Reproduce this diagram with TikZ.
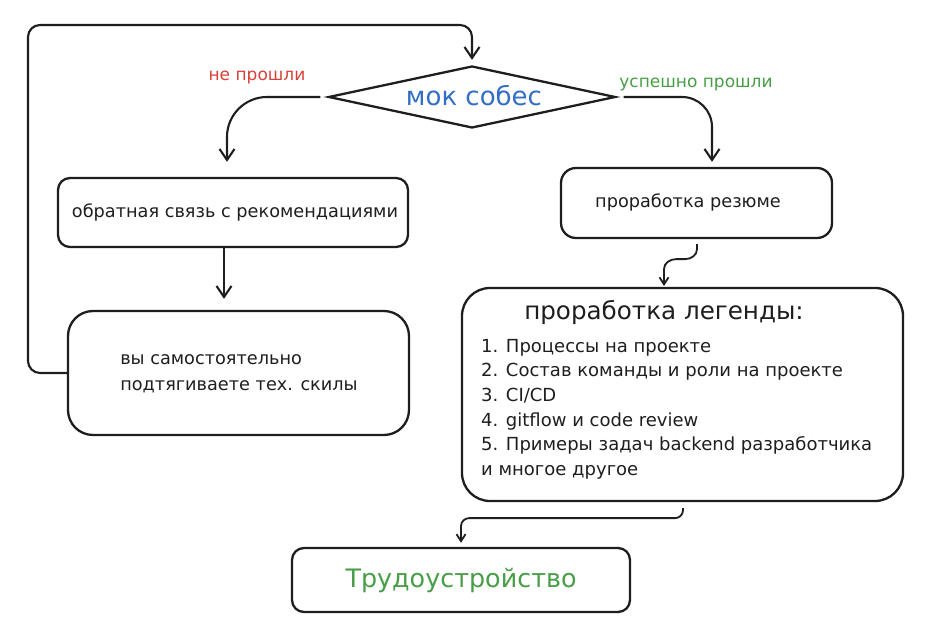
\documentclass[tikz,border=0pt]{standalone}
\usepackage{fontspec}
\setmainfont{DejaVu Sans}
\usetikzlibrary{shapes.geometric,arrows.meta}
\definecolor{mblue}{RGB}{49,110,196}
\definecolor{mred}{RGB}{214,64,56}
\definecolor{mgreen}{RGB}{72,158,70}
\definecolor{ink}{RGB}{30,30,30}
\tikzset{
  box/.style={draw=ink, line width=2.3pt, inner sep=0pt},
  arr/.style={draw=ink, line width=2.1pt, -{Straight Barb[length=11pt,width=15pt,line width=2.1pt]}},
  arrs/.style={draw=ink, line width=1.8pt, -{Straight Barb[length=7pt,width=9pt,line width=1.8pt]}},
  txt/.style={inner sep=0pt, text=ink, font=\fontsize{17.7}{21}\selectfont}
}
\begin{document}
\begin{tikzpicture}[x=1pt,y=1pt]
\useasboundingbox (0,0) rectangle (947,642);
% nodes
\node[diamond, draw=ink, line width=2.3pt, minimum width=287pt, minimum height=62pt, aspect=4.63, inner sep=0pt] (dia) at (472,545) {};
\node[inner sep=0pt, text=mblue, font=\fontsize{26}{30}\selectfont] (diat) at (474,546) {мок собес};
\node[box, rounded corners=12pt, minimum width=350pt, minimum height=69pt] (b1) at (233,429.5) {};
\node[txt] (b1t) at (235,430) {обратная связь с рекомендациями};
\node[box, rounded corners=25pt, minimum width=341pt, minimum height=124pt] (b2) at (238.5,269) {};
\node[txt, align=left, font=\fontsize{17.7}{26}\selectfont] (b2t) at (239,268) {вы самостоятельно\\подтягиваете тех. скилы};
\node[box, rounded corners=15pt, minimum width=271pt, minimum height=70pt] (b3) at (696.5,439) {};
\node[txt] (b3t) at (688,440) {проработка резюме};
\node[box, rounded corners=28pt, minimum width=441pt, minimum height=213pt] (b4) at (682.5,247.5) {};
\node[txt, font=\fontsize{24.6}{28}\selectfont] (b4h) at (664,329) {проработка легенды:};
\node[txt, align=left, anchor=north west, font=\fontsize{18}{24.6}\selectfont] (b4t) at (481,303) {1. Процессы на проекте\\2. Состав команды и роли на проекте\\3. CI/CD\\4. gitflow и code review\\5. Примеры задач backend разработчика\\и многое другое};
\node[box, rounded corners=12pt, minimum width=338pt, minimum height=64pt] (b5) at (461,62) {};
\node[inner sep=0pt, text=mgreen, font=\fontsize{25.4}{29}\selectfont] (b5t) at (461,62) {Трудоустройство};
\node[inner sep=0pt, text=mred, font=\fontsize{17}{19}\selectfont] (lno) at (257,564) {не прошли};
\node[inner sep=0pt, text=mgreen, font=\fontsize{17}{19}\selectfont] (lyes) at (696,557) {успешно прошли};
% coordinates
\coordinate (loopA) at (28,269);
\coordinate (loopB) at (28,617);
\coordinate (loopC) at (472,617);
\coordinate (b1in) at (227,429.5);
\coordinate (b3in) at (712,439);
% connectors
\draw[arr, rounded corners=12pt, shorten >=5pt] (b2.west) -- (loopA) -- (loopB) -- (loopC) -- (dia.north);
\draw[arr, rounded corners=40pt, shorten <=7pt, shorten >=15pt] (dia.west) -| (b1in |- b1.north);
\draw[arr, rounded corners=30pt, shorten <=7pt, shorten >=5pt] (dia.east) -| (b3in |- b3.north);
\draw[arr, shorten >=11pt] ([xshift=-9pt]b1.south) -- ([xshift=-9pt]b1.south |- b2.north);
\draw[arrs, shorten <=5pt] ([xshift=0.5pt]b3.south) -- ++(0,-10) to[out=270,in=0] ++(-12,-10) -- ++(-9,0) to[out=180,in=90] ++(-12,-10) -- (664,356);
\draw[arrs, rounded corners=8pt, shorten <=6pt, shorten >=4pt] ([xshift=0.5pt]b4.south) -- ++(0,-16) -| (b5.north -| 461,0);
\end{tikzpicture}
\end{document}
